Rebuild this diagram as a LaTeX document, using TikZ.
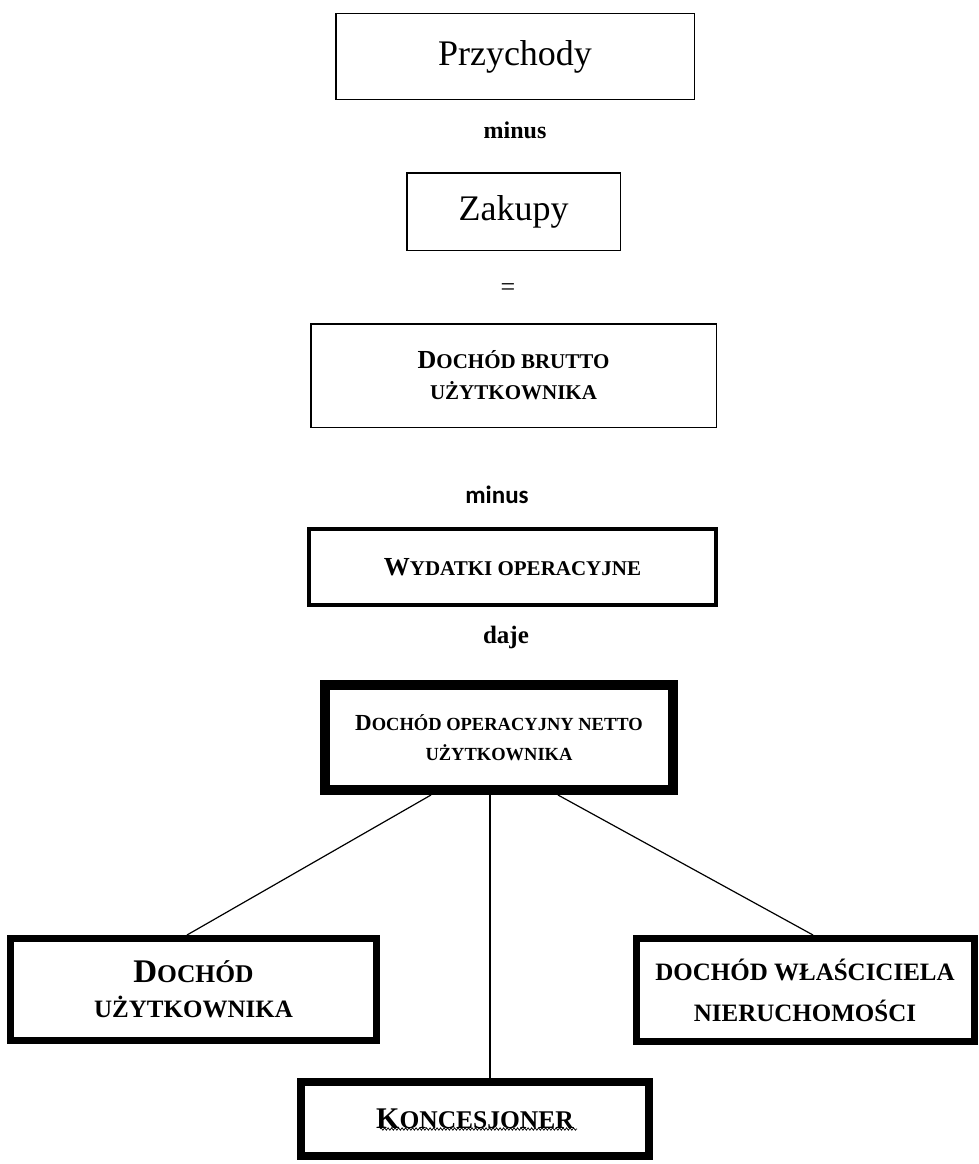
\documentclass[tikz,border=0pt]{standalone}
\usepackage{fontspec}
\setmainfont{Liberation Serif}
\newfontfamily\carlito{Carlito}
\usetikzlibrary{decorations.pathmorphing}
\newcommand\fs[1]{\fontsize{#1}{#1}\selectfont}
\newcommand\SCk[4]{{\fs{#1}#3}{\fs{#2}#4}}
\tikzset{
  thinbox/.style={draw, line width=1.5pt, inner sep=0pt, align=center},
  midbox/.style={draw, line width=4pt, inner sep=0pt, align=center},
  thickbox/.style={draw, line width=7pt, inner sep=0pt, align=center},
  heavybox/.style={draw, line width=10pt, inner sep=0pt, align=center},
  lbl/.style={inner sep=0pt},
  conn/.style={line width=1.2pt}
}
\begin{document}
\begin{tikzpicture}[x=1pt,y=-1pt]
\useasboundingbox (0,0) rectangle (979,1164);
% top boxes
\node[thinbox, minimum width=358.5pt, minimum height=85.5pt, font=\fs{36}] (prz) at (515,56.5) {Przychody};
\node[lbl, font=\bfseries\fs{24}] (minus1) at (515,130) {minus};
\node[thinbox, minimum width=213.5pt, minimum height=77.5pt, font=\fs{36}] (zak) at (513.5,211.5) {Zakupy};
\node[lbl, font=\fs{26}] (eq) at (508,290) {=};
\node[thinbox, minimum width=405.5pt, minimum height=103.5pt, font=\bfseries\fontsize{26}{31}\selectfont] (brutto) at (513.5,375.5)
  {\SCk{26}{21}{D}{OCHÓD BRUTTO}\\\SCk{26}{21}{}{UŻYTKOWNIKA}};
\node[lbl, font=\carlito\bfseries\fs{25}] (minus2) at (497,495) {minus};
\node[midbox, minimum width=407pt, minimum height=76pt, font=\bfseries\fs{26}] (wyd) at (512.5,567)
  {\SCk{26}{21}{W}{YDATKI OPERACYJNE}};
\node[lbl, font=\bfseries\fs{25}] (daje) at (506,637) {daje};
\node[heavybox, minimum width=348pt, minimum height=105pt, font=\bfseries\fontsize{23}{30}\selectfont] (op) at (499,737.5)
  {\SCk{23}{18.5}{D}{OCHÓD OPERACYJNY NETTO}\\\SCk{23}{18.5}{}{UŻYTKOWNIKA}};
% bottom boxes
\node[thickbox, minimum width=366pt, minimum height=102pt, font=\bfseries\fontsize{32}{35}\selectfont] (uz) at (193.5,989.5)
  {\SCk{33}{25.5}{D}{OCHÓD}\\\SCk{33}{25}{}{UŻYTKOWNIKA}};
\node[thickbox, minimum width=338pt, minimum height=103pt, font=\bfseries\fontsize{25}{41}\selectfont] (wl) at (805,990)
  {DOCHÓD WŁAŚCICIELA\\NIERUCHOMOŚCI};
\node[heavybox, minimum width=348pt, minimum height=74pt, line width=8pt, font=\bfseries\fs{30}] (kon) at (475,1119)
  {\SCk{30}{25.5}{K}{ONCESJONER}};
\draw[line width=0.7pt, decorate, decoration={snake, amplitude=1.2pt, segment length=3.5pt}]
  ([xshift=-95pt, yshift=-10pt]kon.center) -- ([xshift=102pt, yshift=-10pt]kon.center);
% connectors
\draw[conn] ([xshift=-68pt]op.south) -- ([xshift=-6.5pt]uz.north);
\draw[conn] ([xshift=-9pt]op.south) -- ([xshift=15pt]kon.north);
\draw[conn] ([xshift=59pt]op.south) -- ([xshift=8pt]wl.north);
\end{tikzpicture}
\end{document}
